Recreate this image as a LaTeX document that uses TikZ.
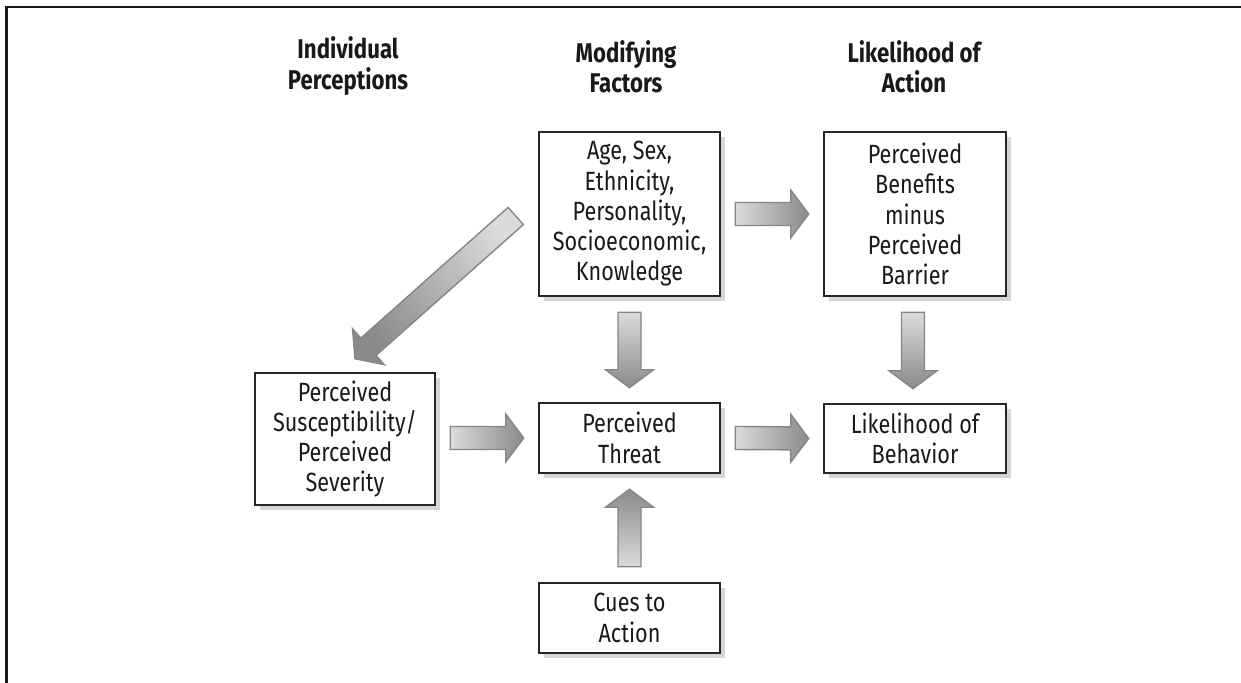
\documentclass[tikz,border=0pt]{standalone}
\usepackage{fontspec}
\setmainfont{Fira Sans}[FakeStretch=0.82]
\usetikzlibrary{calc,shadows}
\tikzset{
  box/.style={draw=black!85, line width=0.7pt, fill=white, align=center,
    font=\fontsize{7.5}{8.6}\selectfont, text=black!90, inner sep=0pt,
    drop shadow={shadow xshift=0.05cm, shadow yshift=-0.05cm, fill=black!16, opacity=1}},
  header/.style={align=center, font=\fontsize{7.7}{8.6}\selectfont\bfseries, text=black!90},
  barrow/.style={draw=gray!95, line width=0.4pt},
  frame/.style={line width=0.8pt, draw=black!90},
}
\colorlet{alight}{gray!28}
\colorlet{adark}{gray!92}
\newcommand\blockarrow[3]{%
  \coordinate (ba-s) at ($(#3)!0.18cm!(#2)$);
  \shadedraw[barrow,#1] ($(#2)!0.115cm!90:(#3)$) -- ($(ba-s)!0.115cm!90:(#3)$)
    -- ($(ba-s)!0.24cm!90:(#3)$) -- (#3) -- ($(ba-s)!0.24cm!-90:(#3)$)
    -- ($(ba-s)!0.115cm!-90:(#3)$) -- ($(#2)!0.115cm!-90:(#3)$) -- cycle;}
\begin{document}
\begin{tikzpicture}[x=0.01cm, y=-0.01cm]
\useasboundingbox (0,0) rectangle (1241,683);
\fill[white] (0,0) rectangle (1241,683);
\coordinate (fbl) at (6.5,683);
\coordinate (ftl) at (6.5,7);
\coordinate (ftr) at (1241,7);
\draw[frame] (fbl) -- (ftl) -- (ftr);

% headers
\node[header] (h1) at (348,66) {Individual\\Perceptions};
\node[header] (h2) at (626,67) {Modifying\\Factors};
\node[header] (h3) at (914,67) {Likelihood of\\Action};

% boxes
\node[box, minimum width=1.81cm, minimum height=1.64cm] (mod) at (629.5,214)
  {Age, Sex,\\Ethnicity,\\Personality,\\Socioeconomic,\\Knowledge};
\node[box, minimum width=1.82cm, minimum height=1.64cm] (ben) at (915,214)
  {Perceived\\Benefits\\minus\\Perceived\\Barrier};
\node[box, minimum width=1.80cm, minimum height=1.32cm] (sus) at (345,439)
  {Perceived\\Susceptibility/\\Perceived\\Severity};
\node[box, minimum width=1.81cm, minimum height=0.70cm] (thr) at (629.5,438)
  {Perceived\\Threat};
\node[box, minimum width=1.82cm, minimum height=0.69cm] (lik) at (915,438.5)
  {Likelihood of\\Behavior};
\node[box, minimum width=1.81cm, minimum height=0.70cm] (cue) at (629.5,618)
  {Cues to\\Action};

% arrow end points
\coordinate (a1t) at ($(mod.east)+(14,0)$);
\coordinate (a1h) at ($(ben.west)+(-14,0)$);
\coordinate (a2t) at ($(sus.east)+(14,-1)$);
\coordinate (a2h) at ($(thr.west)+(-14,0)$);
\coordinate (a3t) at ($(thr.east)+(14,0)$);
\coordinate (a3h) at ($(lik.west)+(-14,0)$);
\coordinate (a4t) at ($(mod.south)+(0,15)$);
\coordinate (a4h) at ($(thr.north)+(0,-14)$);
\coordinate (a5t) at ($(ben.south)+(-2,15)$);
\coordinate (a5h) at ($(lik.north)+(-2,-14)$);
\coordinate (a6t) at ($(cue.north)+(0,-15)$);
\coordinate (a6h) at ($(thr.south)+(0,15)$);
\coordinate (a7t) at ($(mod.west)+(-22,2)$);
\coordinate (a7h) at ($(sus.north)+(10,-13)$);

\blockarrow{left color=alight, right color=adark}{a1t}{a1h}
\blockarrow{left color=alight, right color=adark}{a2t}{a2h}
\blockarrow{left color=alight, right color=adark}{a3t}{a3h}
\blockarrow{top color=alight, bottom color=adark}{a4t}{a4h}
\blockarrow{top color=alight, bottom color=adark}{a5t}{a5h}
\blockarrow{top color=adark, bottom color=alight}{a6t}{a6h}
\blockarrow{top color=alight, bottom color=adark, shading angle=-48}{a7t}{a7h}
\end{tikzpicture}
\end{document}
